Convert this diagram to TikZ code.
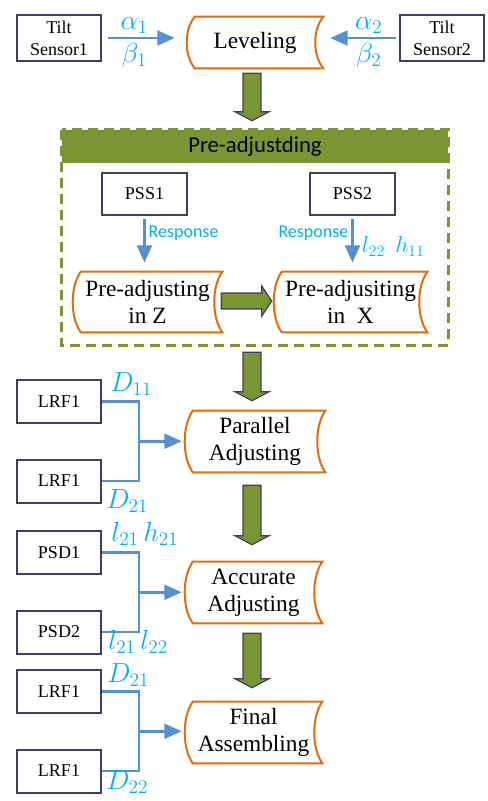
\documentclass[tikz,border=0pt]{standalone}
\usepackage{fontspec}
\setmainfont{Liberation Serif}
\newfontfamily\calibfont{Carlito}
\usetikzlibrary{arrows.meta,calc,positioning}

\definecolor{boxline}{RGB}{64,62,92}
\definecolor{shapeorange}{RGB}{228,108,10}
\definecolor{linkblue}{RGB}{84,145,206}
\definecolor{labelcyan}{RGB}{0,176,240}
\definecolor{olive}{RGB}{122,150,52}

% stored-data outline round a named node
\newcommand{\storedline}[1]{%
  \draw[orgline] ($(#1.north west)+(8,0)$) -- (#1.north east)
    .. controls ($(#1.north east)!0.25!(#1.south east)+(-10.7,0)$)
       and ($(#1.north east)!0.75!(#1.south east)+(-10.7,0)$) .. (#1.south east)
    -- ($(#1.south west)+(8,0)$)
    .. controls ($(#1.south west)!0.25!(#1.north west)+(-2.7,0)$)
       and ($(#1.south west)!0.75!(#1.north west)+(-2.7,0)$) .. cycle;}

% block arrows
\newcommand{\garrowdown}[2]{%
  \draw[garrow] ($(#1)+(-9,0)$) -- ($(#1)+(9,0)$) -- ($(#2)+(9,-9)$) -- ($(#2)+(17,-9)$)
    -- (#2) -- ($(#2)+(-17,-9)$) -- ($(#2)+(-9,-9)$) -- cycle;}
\newcommand{\garrowright}[2]{%
  \draw[garrow] ($(#1)+(0,-8)$) -- ($(#2)+(-10,-8)$) -- ($(#2)+(-10,-15)$)
    -- (#2) -- ($(#2)+(-10,15)$) -- ($(#2)+(-10,8)$) -- ($(#1)+(0,8)$) -- cycle;}

\begin{document}
\begin{tikzpicture}[x=0.75pt,y=-0.75pt,
  sensor/.style={draw=boxline, line width=1.5pt, fill=white, inner sep=0pt, align=center,
    minimum width=63pt, minimum height=32.25pt, font=\fontsize{13.5}{16.5}\selectfont},
  stored/.style={inner sep=0pt, align=center, font=\fontsize{17.5}{20}\selectfont},
  orgline/.style={draw=shapeorange, line width=1.5pt},
  conn/.style={draw=linkblue, line width=2.2pt},
  connarrow/.style={conn, -{Triangle[length=13pt,width=11pt]}},
  lbl/.style={text=labelcyan, inner sep=0pt, font=\fontsize{20}{22}\selectfont},
  resp/.style={text=labelcyan, inner sep=2pt, font=\calibfont\fontsize{13.5}{16}\selectfont},
  garrow/.style={fill=olive, draw=boxline, line width=0.9pt, line join=miter}]
  \useasboundingbox (0,0) rectangle (488,801);

  % leveling
  \node[sensor, minimum height=34.5pt] (ts1) at (59,38) {Tilt\\Sensor1};
  \node[sensor, minimum height=34.5pt] (ts2) at (442,38) {Tilt\\Sensor2};
  \node[stored, minimum width=102pt, minimum height=38.25pt] (lev) at (255,42.5) {Leveling};

  % pre-adjusting frame
  \node[minimum width=289.5pt, minimum height=161.25pt, inner sep=0pt] (pre) at (255,237.5) {};
  \node[fill=olive, minimum width=289.5pt, minimum height=24.75pt, inner sep=0pt, anchor=north,
    font=\calibfont\fontsize{17}{20}\selectfont] (hdr) at (pre.north) {Pre-adjustding};
  \draw[olive, line width=2.2pt, dash pattern=on 7.5pt off 4.5pt] (pre.north west) rectangle (pre.south east);

  \node[sensor, minimum width=63.75pt, minimum height=31.5pt] (pss1) at (144.5,194) {PSS1};
  \node[sensor, minimum width=63.75pt, minimum height=31.5pt] (pss2) at (352.5,194) {PSS2};
  \node[stored, minimum width=111.75pt, minimum height=45pt] (prez) at (147.5,302) {Pre-adjusting\\in Z};
  \node[stored, minimum width=114.75pt, minimum height=45pt] (prex) at (350.5,302) {Pre-adjusiting\\in\enspace X};

  % adjusting stages
  \node[stored, minimum width=105pt, minimum height=45.75pt] (par) at (255,441.5) {Parallel\\Adjusting};
  \node[stored, minimum width=102.75pt, minimum height=45.75pt] (acc) at (253.5,592.5) {Accurate\\Adjusting};
  \node[stored, minimum width=102.75pt, minimum height=45.75pt] (fin) at (253.5,732.5) {Final\\Assembling};

  \node[sensor] (lrfa) at (59,401.5) {LRF1};
  \node[sensor] (lrfb) at (59,481) {LRF1};
  \node[sensor] (psd1) at (59,552.5) {PSD1};
  \node[sensor] (psd2) at (59,632) {PSD2};
  \node[sensor] (lrfc) at (59,691.5) {LRF1};
  \node[sensor] (lrfd) at (59,771) {LRF1};

  \foreach \n in {lev,prez,prex,par,acc,fin} {\storedline{\n}}

  % tilt signals
  \draw[connarrow, shorten <=4.5pt, shorten >=9pt] (ts1.east) -- (ts1.east -| lev.west)
    node[lbl, pos=0.38, above=2pt] (a1) {$\alpha_1$}
    node[lbl, pos=0.38, below=3pt] (b1) {$\beta_1$};
  \draw[connarrow, shorten <=2.25pt, shorten >=5.25pt] (ts2.west) -- (ts2.west -| lev.east)
    node[lbl, pos=0.4, above=2pt] (a2) {$\alpha_2$}
    node[lbl, pos=0.4, below=3pt] (b2) {$\beta_2$};

  % responses
  \draw[connarrow, shorten <=2.25pt, shorten >=6.75pt] (pss1.south) -- (pss1.south |- prez.north)
    node[resp, right, pos=0.3] (r1) {Response};
  \draw[connarrow, shorten <=2.25pt, shorten >=6.75pt] (pss2.south) -- (pss2.south |- prex.north)
    node[resp, left, pos=0.3] (r2) {Response}
    node[lbl, right=6pt, pos=0.55, font=\fontsize{17}{19}\selectfont] (lh) {$l_{22}\;\, h_{11}$};

  % sensor pairs
  \foreach \a/\b/\t in {lrfa/lrfb/par, psd1/psd2/acc, lrfc/lrfd/fin}{
    \coordinate (j\t) at ($(\a.east)!0.5!(\b.east)+(37,0)$);
    \draw[conn] (\a.east) -| (j\t) |- (\b.east);
    \draw[connarrow, shorten >=2.25pt] (j\t) -- (j\t -| \t.west);
  }
  \node[lbl, anchor=base west] (d11) at ($(lrfa.east)+(8,-10)$) {$D_{11}$};
  \node[lbl, anchor=base west] (d21) at ($(lrfb.east)+(4,27)$) {$D_{21}$};
  \node[lbl, anchor=base west] (lh21) at ($(psd1.east)+(9,-11)$) {$l_{21}\, h_{21}$};
  \node[lbl, anchor=base west] (ll22) at ($(psd2.east)+(6,17)$) {$l_{21}\, l_{22}$};
  \node[lbl, anchor=base west] (d21b) at ($(lrfc.east)+(5,-9)$) {$D_{21}$};
  \node[lbl, anchor=base west] (d22) at ($(lrfd.east)+(4,18)$) {$D_{22}$};

  % block arrows
  \coordinate (g1s) at ($(lev.south)+(-3,5)$);
  \coordinate (g1e) at ($(g1s |- pre.north)+(0,-9)$);
  \coordinate (g2s) at ($(pre.south)+(-3,7)$);
  \coordinate (g2e) at ($(g2s |- par.north)+(0,-10)$);
  \coordinate (g3s) at ($(par.south)+(-3,13)$);
  \coordinate (g3e) at ($(g3s |- acc.north)+(0,-17)$);
  \coordinate (g4s) at ($(acc.south)+(-1.5,10)$);
  \coordinate (g4e) at ($(g4s |- fin.north)+(0,-14)$);
  \coordinate (ghs) at ($(prez.east)+(-1,-1)$);
  \coordinate (ghe) at ($(ghs -| prex.west)+(-2,0)$);
  \garrowdown{g1s}{g1e}
  \garrowdown{g2s}{g2e}
  \garrowdown{g3s}{g3e}
  \garrowdown{g4s}{g4e}
  \garrowright{ghs}{ghe}
\end{tikzpicture}
\end{document}
